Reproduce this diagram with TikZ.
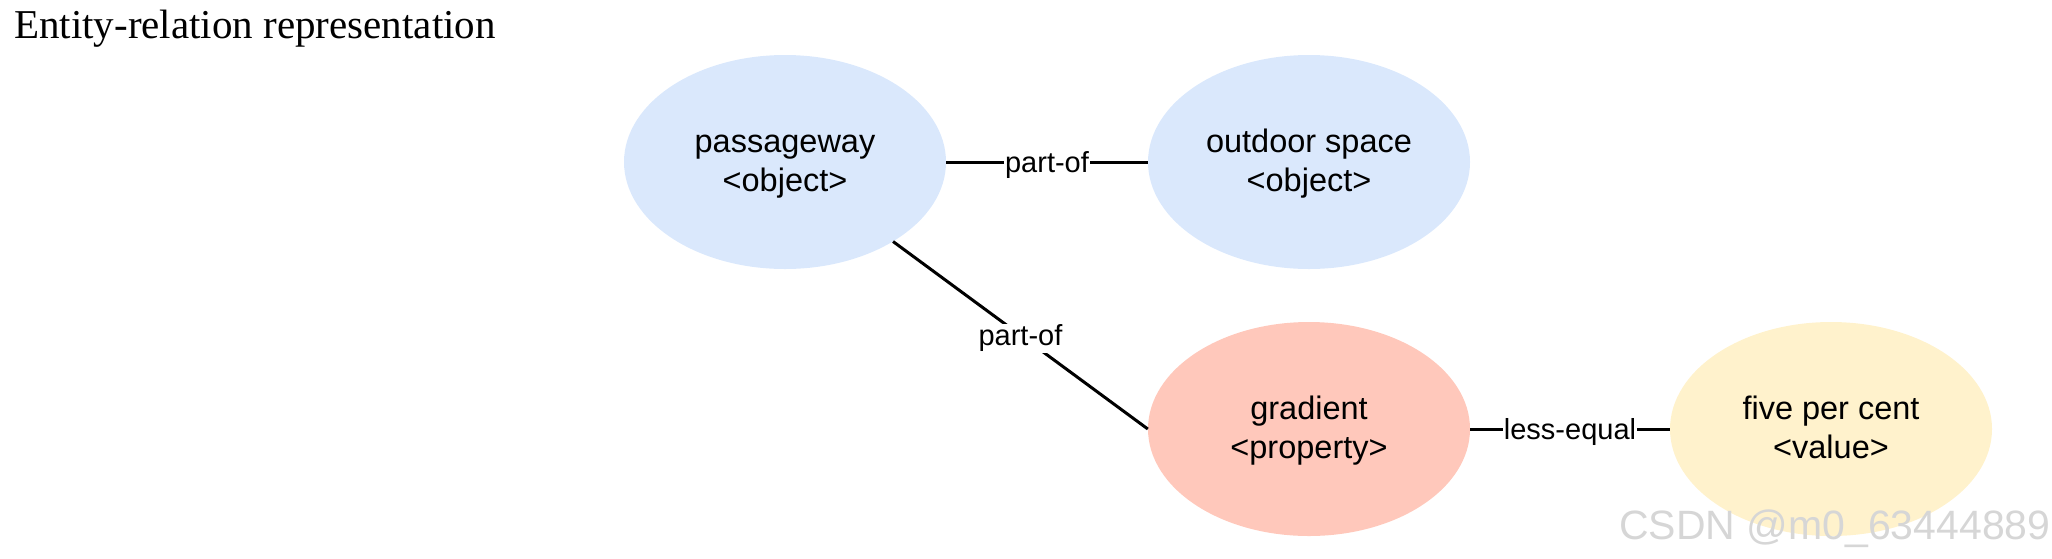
\documentclass[tikz,border=0pt]{standalone}
\usepackage{fontspec}
\setmainfont{Liberation Sans}
\newfontfamily\titlefont{Liberation Serif}
\usetikzlibrary{shapes.geometric}
\definecolor{objblue}{HTML}{DAE8FC}
\definecolor{propred}{HTML}{FFC8BB}
\definecolor{valyellow}{HTML}{FFF2CC}
\definecolor{wmgray}{HTML}{D6D6D6}
\newcommand{\topst}{\rule{0pt}{30pt}}
\newcommand{\botst}{\rule[-10pt]{0pt}{10pt}}
\tikzset{
  ent/.style={ellipse, minimum width=322pt, minimum height=214pt, inner sep=0pt,
    align=center, font=\fontsize{32.5}{39}\selectfont},
  rel/.style={line width=3pt},
  rellabel/.style={fill=white, inner sep=1pt, yshift=-3pt, font=\fontsize{29}{34}\selectfont}
}
\begin{document}
\begin{tikzpicture}[x=1pt,y=-1pt]
\useasboundingbox (0,0) rectangle (2052,558);
\node[anchor=base west, inner sep=0pt, font=\titlefont\fontsize{41}{48}\selectfont] (title) at (14,38) {Entity-relation representation};
\node[ent, fill=objblue] (pass) at (785,162) {\topst passageway\\<object>\botst};
\node[ent, fill=objblue] (out) at (1309,162) {\topst outdoor space\\<object>\botst};
\node[ent, fill=propred] (grad) at (1309,429) {\topst gradient\\<property>\botst};
\node[ent, fill=valyellow] (five) at (1831,429) {\topst five per cent\\<value>\botst};
\draw[rel] (pass.east) -- node[rellabel] {part-of} (out.west);
\draw[rel] (pass) -- node[rellabel] {part-of} (grad.west);
\draw[rel] (grad.east) -- node[rellabel] {less-equal} (five.west);
\node[anchor=base west, inner sep=0pt, text=wmgray,
  font=\fontsize{41}{46}\selectfont] (wm) at (1619,539) {CSDN @m0\_63444889};
\end{tikzpicture}
\end{document}
